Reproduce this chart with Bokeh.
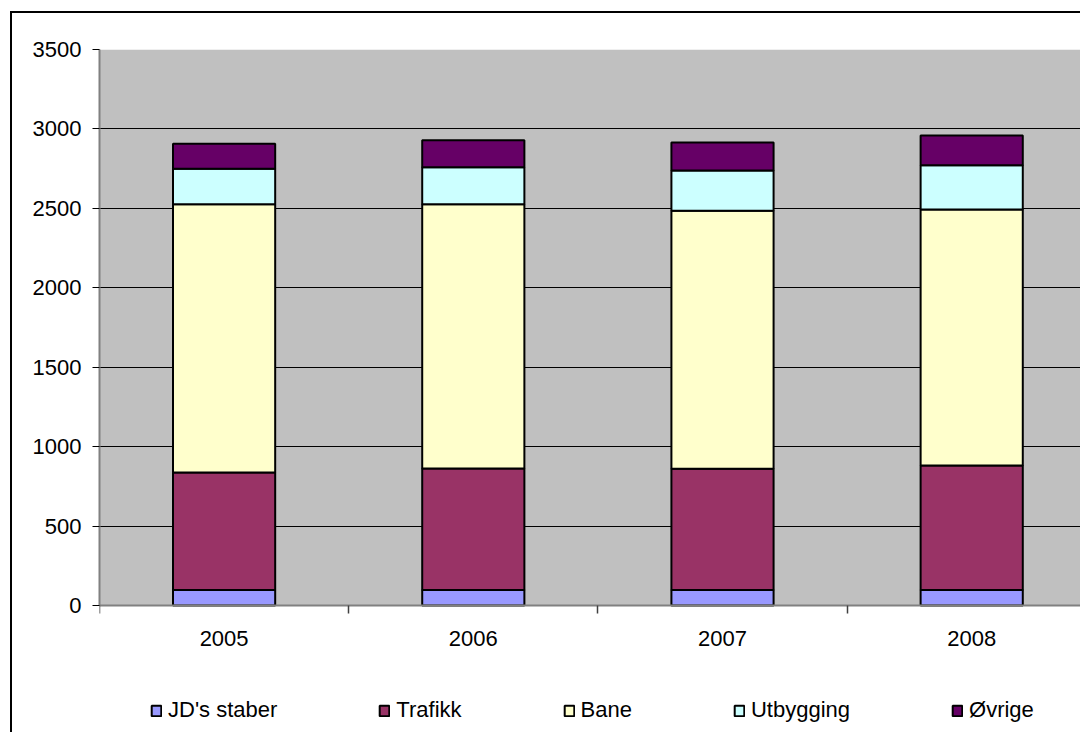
from bokeh.plotting import figure
from bokeh.models import (ColumnDataSource, FixedTicker, Legend, Range1d,
                          InlineStyleSheet, BoxAnnotation)
from bokeh.embed import file_html
from bokeh.resources import INLINE

# Staff by unit, 2005-2008
years = ["2005", "2006", "2007", "2008"]
series = ["JD's staber", "Trafikk", "Bane", "Utbygging", "Øvrige"]
jd_staber = [97, 97, 97, 97]
trafikk = [741, 766, 764, 785]
bane = [1688, 1663, 1624, 1611]
utbygging = [224, 233, 254, 279]
ovrige = [157, 169, 176, 187]
y_ticks = [0, 500, 1000, 1500, 2000, 2500, 3000, 3500]

colors = ["#9999FF", "#993366", "#FFFFCC", "#CCFFFF", "#660066"]
keys = ["jd", "trafikk", "bane", "utbygging", "ovrige"]

x_pos = [i + 0.5 for i in range(len(years))]
source = ColumnDataSource(dict(x=x_pos, jd=jd_staber, trafikk=trafikk, bane=bane,
                               utbygging=utbygging, ovrige=ovrige))

FONT = "Liberation Sans"
W, H = 1080, 732
left, top, zero_y = 99, 49, 605
cat_w = 249.2
y_max = y_ticks[-1]
px_per_unit = (zero_y - top) / y_max
y_min = y_max - (H - top) / px_per_unit   # room below zero for labels and legend

p = figure(width=W, height=H, output_backend="svg", toolbar_location=None,
           x_range=Range1d(0, (W - left) / cat_w), y_range=Range1d(y_min, y_max),
           min_border_left=left, min_border_top=top, min_border_right=0,
           min_border_bottom=0)
p.background_fill_color = "white"
p.border_fill_color = "white"
p.outline_line_color = None

# grey plot area between zero and the top of the value axis
p.add_layout(BoxAnnotation(bottom=0, top=y_max, fill_color="#C0C0C0", fill_alpha=1,
                           line_color=None, level="image"))

renderers = p.vbar_stack(keys, x="x", width=0.41, source=source, color=colors,
                         line_color="black", line_width=2)

# y axis
p.yaxis.ticker = FixedTicker(ticks=y_ticks)
p.yaxis.bounds = (0, y_max)
p.yaxis.axis_line_color = "#808080"
p.yaxis.axis_line_width = 2
p.yaxis.major_tick_line_color = "black"
p.yaxis.major_tick_out = 7
p.yaxis.major_tick_in = 0
p.yaxis.minor_tick_line_color = None
p.yaxis.major_label_standoff = 11
p.yaxis.major_label_text_font = FONT
p.yaxis.major_label_text_font_size = "22px"
p.yaxis.major_label_text_color = "black"

# x axis at zero: labels at category centres, tick marks at category boundaries
p.xaxis.fixed_location = 0
p.xaxis.ticker = FixedTicker(ticks=x_pos, minor_ticks=list(range(len(years) + 1)))
p.xaxis.major_label_overrides = {x: y for x, y in zip(x_pos, years)}
p.xaxis.axis_line_color = "#808080"
p.xaxis.axis_line_width = 2
p.xaxis.major_tick_line_color = None
p.xaxis.major_tick_out = 0
p.xaxis.major_tick_in = 0
p.xaxis.minor_tick_line_color = "#404040"
p.xaxis.minor_tick_line_width = 1.5
p.xaxis.minor_tick_out = 8
p.xaxis.minor_tick_in = 0
p.xaxis.major_label_standoff = 17
p.xaxis.major_label_text_font = FONT
p.xaxis.major_label_text_font_size = "22px"
p.xaxis.major_label_text_color = "black"

p.xgrid.grid_line_color = None
p.ygrid.ticker = FixedTicker(ticks=y_ticks)
p.ygrid.grid_line_color = "black"
p.ygrid.grid_line_width = 1.2

legend = Legend(items=[(s, [r]) for s, r in zip(series, renderers)],
                orientation="horizontal", location=(51, 9),
                label_text_font=FONT, label_text_font_size="22px",
                label_text_color="black",
                glyph_width=12, glyph_height=13, label_standoff=6, spacing=101,
                padding=0, margin=0, border_line_color=None,
                background_fill_alpha=0)
p.add_layout(legend, "center")

# outer chart border (top and left edges of the chart area)
p.stylesheets = [InlineStyleSheet(css="""
:host { position: relative; }
:host::after {
  content: ""; position: absolute; left: 10px; top: 11px;
  width: calc(100% - 12px); height: calc(100% - 13px);
  border-left: 2px solid black; border-top: 2px solid black;
  pointer-events: none;
}
""")]

open("out.html", "w").write(file_html(p, INLINE))
